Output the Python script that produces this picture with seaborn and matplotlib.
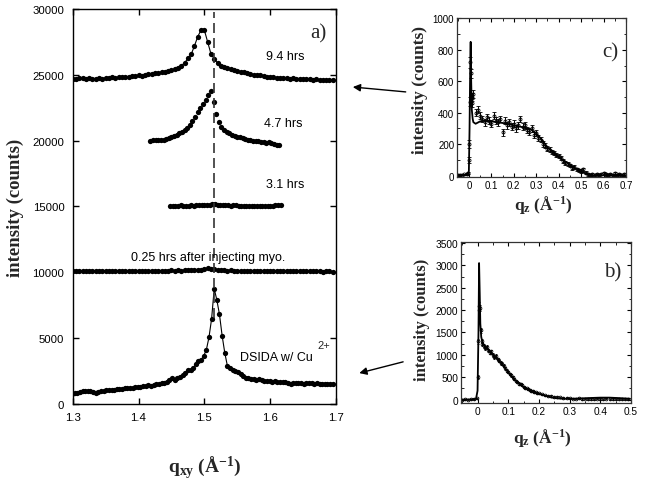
import numpy as np
import matplotlib
matplotlib.use("Agg")
import matplotlib.pyplot as plt
import seaborn as sns

# ---------------- data: panel a (in-plane scans, offset curves) ----------------
q94_range = (1.300, 1.695)
I_94 = [24650, 24700, 24720, 24760, 24700, 24730, 24700, 24680, 24720, 24700,
        24760, 24730, 24800, 24760, 24820, 24800, 24850, 24830, 24900, 24880,
        24950, 24930, 25000, 25050, 25080, 25120, 25150, 25200, 25220, 25280,
        25330, 25420, 25550, 25700, 25900, 26250, 26550, 27200, 27900, 28400,
        28400, 27500, 26600, 26200, 25900, 25700, 25600, 25520, 25450, 25380,
        25300, 25250, 25180, 25130, 25080, 25020, 24980, 24950, 24900, 24870,
        24830, 24800, 24780, 24760, 24720, 24740, 24700, 24720, 24700, 24680,
        24700, 24650, 24680, 24640, 24660, 24620, 24640, 24600, 24620, 24600]

q47_range = (1.418, 1.614)
I_47 = [20010, 20030, 20020, 20060, 20040, 20050, 20100, 20200, 20280, 20350,
        20450, 20550, 20650, 20780, 20950, 21200, 21500, 21800, 22150, 22450,
        22750, 23050, 23500, 23800, 22950, 22000, 21400, 21050, 20800, 20650,
        20550, 20450, 20380, 20300, 20250, 20180, 20120, 20080, 20050, 20000,
        19950, 19980, 19900, 19920, 19850, 19870, 19800, 19750, 19700, 19650]

q31_range = (1.448, 1.616)
I_31 = [15050, 15070, 15040, 15060, 15080, 15050, 15060, 15070, 15090, 15060,
        15080, 15100, 15090, 15110, 15100, 15130, 15200, 15170, 15140, 15120,
        15100, 15090, 15080, 15070, 15080, 15090, 15070, 15050, 15060, 15040,
        15050, 15030, 15040, 15060, 15030, 15050, 15040, 15060, 15050, 15070,
        15080, 15100, 15140]

q025_range = (1.300, 1.695)
I_025 = [10100, 10120, 10080, 10100, 10130, 10090, 10110, 10100, 10080, 10120,
         10100, 10090, 10110, 10130, 10100, 10080, 10100, 10120, 10110, 10090,
         10100, 10130, 10110, 10100, 10090, 10120, 10100, 10110, 10130, 10120,
         10140, 10120, 10150, 10130, 10160, 10150, 10170, 10160, 10180, 10200,
         10250, 10300, 10280, 10220, 10180, 10150, 10160, 10130, 10140, 10120,
         10110, 10130, 10100, 10120, 10090, 10110, 10100, 10120, 10100, 10090,
         10110, 10100, 10080, 10100, 10120, 10090, 10100, 10080, 10100, 10090,
         10070, 10090, 10100, 10080, 10070, 10090, 10060, 10080, 10070, 10050]

qds_range = (1.299, 1.695)
I_ds = [760, 820, 860, 900, 950, 980, 1000, 950, 900, 870,
        930, 980, 1000, 1050, 1080, 1100, 1080, 1120, 1150, 1130,
        1180, 1200, 1250, 1230, 1280, 1320, 1300, 1350, 1380, 1420,
        1400, 1450, 1500, 1520, 1560, 1600, 1700, 1800, 1950, 1850,
        1950, 2050, 2200, 2350, 2600, 2550, 2750, 3000, 3250, 3350,
        3650, 4100, 5050, 6450, 8750, 7900, 6800, 5200, 3900, 2900,
        2700, 2600, 2500, 2400, 2250, 2100, 2000, 1950, 1900, 1920,
        1850, 1880, 1800, 1780, 1750, 1720, 1700, 1720, 1680, 1700,
        1650, 1680, 1620, 1550, 1580, 1600, 1560, 1580, 1550, 1600,
        1560, 1580, 1540, 1560, 1520, 1550, 1530, 1520, 1540, 1520]

PEAK_Q = 1.515
DASH_LO, DASH_HI = 6500, 29800

x_ticks_a = [1.3, 1.4, 1.5, 1.6, 1.7]
y_ticks_a = [0, 5000, 10000, 15000, 20000, 25000, 30000]

# ---------------- data: panel c (reflectivity, 9.4 hrs) ----------------
qz_c = [-0.05, -0.04, -0.03, -0.02, -0.01, -0.005, 0.0, 0.002, 0.004, 0.006,
        0.008, 0.010, 0.013, 0.016, 0.02, 0.03, 0.04, 0.05, 0.06, 0.07,
        0.08, 0.09, 0.10, 0.11, 0.12, 0.13, 0.14, 0.15, 0.16, 0.17,
        0.18, 0.19, 0.20, 0.21, 0.22, 0.23, 0.24, 0.25, 0.26, 0.27,
        0.28, 0.29, 0.30, 0.31, 0.32, 0.33, 0.34, 0.35, 0.36, 0.37,
        0.38, 0.39, 0.40, 0.41, 0.42, 0.43, 0.44, 0.45, 0.46, 0.47,
        0.48, 0.49, 0.50, 0.51, 0.52, 0.53, 0.54, 0.55, 0.56, 0.57,
        0.58, 0.59, 0.60, 0.61, 0.62, 0.63, 0.64, 0.65, 0.66, 0.67,
        0.68, 0.69]
I_c = [5, 5, 6, 8, 10, 15, 100, 200, 470, 720,
       650, 480, 500, 460, 520, 400, 420, 380, 360, 340,
       370, 350, 330, 380, 350, 340, 360, 275, 350, 320,
       340, 310, 330, 300, 320, 360, 310, 320, 290, 280,
       300, 260, 270, 240, 230, 200, 190, 170, 165, 150,
       145, 130, 125, 110, 95, 80, 75, 65, 50, 55,
       40, 35, 30, 40, 20, 10, 5, 8, 3, 12,
       5, 10, 15, 8, 5, 12, 6, 15, 5, 10,
       4, 8]
err_c = [4, 4, 4, 4, 5, 6, 20, 25, 30, 35,
         30, 25, 25, 25, 25, 22, 22, 22, 22, 22,
         22, 22, 22, 22, 22, 22, 22, 22, 22, 22,
         22, 22, 22, 22, 22, 22, 22, 22, 20, 20,
         20, 20, 20, 18, 18, 18, 16, 16, 16, 15,
         15, 14, 14, 13, 13, 12, 12, 12, 11, 11,
         10, 10, 10, 10, 9, 9, 8, 8, 8, 8,
         8, 8, 8, 8, 8, 8, 8, 8, 8, 8,
         8, 8]
qz_fit_c = [-0.053, -0.02, -0.005, 0.0, 0.003, 0.006, 0.008, 0.010, 0.013, 0.017,
            0.02, 0.03, 0.05, 0.08, 0.10, 0.15, 0.20, 0.25, 0.28, 0.30,
            0.33, 0.35, 0.40, 0.45, 0.50, 0.55, 0.60, 0.65, 0.697]
I_fit_c = [2, 3, 8, 30, 300, 700, 850, 620, 420, 360,
           340, 330, 345, 350, 345, 335, 320, 305, 290, 270,
           220, 180, 120, 70, 25, 0, 3, 5, 3]
x_ticks_c = [0, 0.1, 0.2, 0.3, 0.4, 0.5, 0.6, 0.7]
x_ticklabels_c = ["0", "0.1", "0.2", "0.3", "0.4", "0.5", "0.6", "0.7"]
y_ticks_c = [0, 200, 400, 600, 800, 1000]

# ---------------- data: panel b (reflectivity, DSIDA w/ Cu2+) ----------------
qz_b = [-0.05, -0.04, -0.03, -0.02, -0.01, -0.003, 0.0, 0.003, 0.005, 0.006,
        0.008, 0.010, 0.013, 0.016, 0.02, 0.025, 0.03, 0.035, 0.04, 0.045,
        0.05, 0.055, 0.06, 0.065, 0.07, 0.075, 0.08, 0.085, 0.09, 0.095,
        0.10, 0.105, 0.11, 0.115, 0.12, 0.125, 0.13, 0.135, 0.14, 0.145,
        0.15, 0.155, 0.16, 0.165, 0.17, 0.175, 0.18, 0.185, 0.19, 0.195,
        0.20, 0.21, 0.22, 0.23, 0.24, 0.25, 0.26, 0.27, 0.28, 0.29,
        0.30, 0.31, 0.32, 0.33, 0.34, 0.35, 0.36, 0.37, 0.38, 0.39,
        0.40, 0.41, 0.42, 0.43, 0.44, 0.45, 0.46, 0.47, 0.48, 0.49]
I_b = [0, 5, 0, 5, 10, 30, 500, 1300, 2100, 2000,
       2050, 1550, 1300, 1250, 1200, 1150, 1180, 1100, 1050, 1080,
       1000, 950, 980, 900, 870, 820, 800, 760, 700, 650,
       620, 570, 540, 500, 460, 420, 400, 360, 340, 330,
       290, 270, 250, 230, 210, 200, 190, 170, 160, 150,
       140, 120, 100, 90, 80, 70, 60, 55, 45, 40,
       30, 25, 20, 30, 15, 20, 10, 15, 10, 20,
       15, 10, 20, 10, 15, 5, 10, 5, 10, 5]
err_b = [8, 8, 8, 8, 10, 15, 40, 60, 70, 70,
         70, 55, 45, 45, 40, 40, 40, 40, 40, 40,
         38, 38, 38, 36, 36, 35, 35, 34, 33, 32,
         30, 30, 28, 28, 26, 26, 25, 24, 23, 22,
         22, 21, 20, 20, 19, 19, 18, 18, 17, 17,
         16, 15, 15, 14, 14, 13, 13, 12, 12, 12,
         12, 12, 12, 12, 12, 12, 12, 12, 12, 12,
         12, 12, 12, 12, 12, 12, 12, 12, 12, 12]
qz_fit_b = [-0.054, -0.02, -0.005, 0.0, 0.003, 0.005, 0.007, 0.009, 0.012, 0.016,
            0.02, 0.03, 0.04, 0.05, 0.06, 0.07, 0.08, 0.09, 0.10, 0.11,
            0.12, 0.13, 0.14, 0.15, 0.16, 0.18, 0.20, 0.22, 0.24, 0.26,
            0.28, 0.30, 0.33, 0.36, 0.40, 0.43, 0.46, 0.497]
I_fit_b = [0, 5, 20, 200, 1500, 3050, 2400, 1700, 1400, 1280,
           1230, 1150, 1080, 1000, 930, 860, 790, 700, 610, 530,
           450, 390, 330, 280, 240, 180, 130, 90, 50, 30,
           20, 20, 25, 35, 45, 45, 35, 20]
x_ticks_b = [0, 0.1, 0.2, 0.3, 0.4, 0.5]
x_ticklabels_b = ["0", "0.1", "0.2", "0.3", "0.4", "0.5"]
y_ticks_b = [0, 500, 1000, 1500, 2000, 2500, 3000, 3500]

# ---------------- style ----------------
sns.set_theme(style="ticks")
plt.rcParams.update({
    "font.family": ["Liberation Sans", "DejaVu Sans"],
    "mathtext.fontset": "custom",
    "mathtext.rm": "Liberation Serif",
    "mathtext.bf": "Liberation Serif:bold",
    "mathtext.it": "Liberation Serif:italic",
    "axes.edgecolor": "black",
    "axes.linewidth": 1.0,
    "xtick.direction": "in",
    "ytick.direction": "in",
    "xtick.color": "black",
    "ytick.color": "black",
})

fig = plt.figure(figsize=(6.45, 4.89), dpi=100)
fig.patch.set_facecolor("white")

SERIF = "Liberation Serif"

# ---------------- panel a ----------------
ax = fig.add_axes([0.1127, 0.1718, 0.4082, 0.8078])
curves = [(q94_range, I_94, 0.8), (q47_range, I_47, 0.0), (q31_range, I_31, 0.8),
          (q025_range, I_025, 0.8), (qds_range, I_ds, 0.8)]
for (lo_hi, vals, lw) in curves:
    q = np.linspace(lo_hi[0], lo_hi[1], len(vals))
    sns.lineplot(x=q, y=vals, ax=ax, color="black", linewidth=lw,
                 marker="o", markersize=3.8, markeredgewidth=0,
                 estimator=None, sort=False)
ax.vlines(PEAK_Q, DASH_LO, DASH_HI, colors="#333333", linewidth=1.2,
          linestyles=(0, (6, 3)))
ax.set_xlim(1.3, 1.7)
ax.set_ylim(0, 30000)
ax.set_xticks(x_ticks_a)
ax.set_xticklabels([f"{t:.1f}" for t in x_ticks_a])
ax.set_yticks(y_ticks_a)
ax.set_yticklabels([str(t) for t in y_ticks_a])
ax.tick_params(axis="both", which="major", labelsize=8.2, length=4, width=1,
               top=True, right=True, pad=6)
ax.set_xlabel(r"$\mathbf{q_{xy}\ (Å^{-1})}$", fontsize=14)
ax.set_ylabel("intensity (counts)", fontsize=13.5, fontweight="bold",
              family=SERIF)
ax.xaxis.set_label_coords(0.5, -0.125)
ax.yaxis.set_label_coords(-0.185, 0.498)

txt_kw = dict(fontsize=9, color="black", family=["Liberation Sans", "DejaVu Sans"])
ax.text(1.6225, 26450, "9.4 hrs", ha="center", va="center", **txt_kw)
ax.text(1.6195, 21360, "4.7 hrs", ha="center", va="center", **txt_kw)
ax.text(1.6225, 16720, "3.1 hrs", ha="center", va="center", **txt_kw)
ax.text(1.5058, 11170, "0.25 hrs after injecting myo.", ha="center", va="center", **txt_kw)
ax.text(1.5545, 3570, "DSIDA w/ Cu", ha="left", va="center", **txt_kw)
ax.text(1.672, 4500, "2+", ha="left", va="center", fontsize=8,
        family=["Liberation Sans", "DejaVu Sans"])
ax.text(0.935, 0.94, "a)", transform=ax.transAxes, ha="center", va="center",
        fontsize=15, family=SERIF)

# ---------------- panel c ----------------
axc = fig.add_axes([0.7085, 0.6354, 0.2620, 0.3252])
axc.errorbar(qz_c, I_c, yerr=err_c, fmt="o", ms=2.2, mfc="none", mec="black",
             mew=0.6, ecolor="black", elinewidth=0.7, capsize=1.2, capthick=0.7)
sns.lineplot(x=qz_fit_c, y=I_fit_c, ax=axc, color="black", linewidth=1.3,
             estimator=None, sort=False)
axc.set_xlim(-0.053, 0.697)
axc.set_ylim(-10, 1000)
axc.set_xticks(x_ticks_c)
axc.set_xticklabels(x_ticklabels_c)
axc.set_yticks(y_ticks_c)
axc.xaxis.set_minor_locator(matplotlib.ticker.MultipleLocator(0.05))
axc.yaxis.set_minor_locator(matplotlib.ticker.MultipleLocator(100))
axc.tick_params(axis="both", which="major", labelsize=7, length=3, width=0.8,
                top=True, right=True, pad=2)
axc.tick_params(axis="both", which="minor", length=1.8, width=0.6,
                top=True, right=True)
axc.set_xlabel(r"$\mathbf{q_{z}\ (Å^{-1})}$", fontsize=12.5)
axc.set_ylabel("intensity (counts)", fontsize=12.5, fontweight="bold",
               family=SERIF)
axc.xaxis.set_label_coords(0.51, -0.10)
axc.yaxis.set_label_coords(-0.17, 0.557)
axc.text(0.905, 0.79, "c)", transform=axc.transAxes, ha="center", va="center",
         fontsize=15, family=SERIF)
for s in axc.spines.values():
    s.set_color("#333333")
    s.set_linewidth(0.9)

# ---------------- panel b ----------------
axb = fig.add_axes([0.7147, 0.1738, 0.2636, 0.3292])
axb.errorbar(qz_b, I_b, yerr=err_b, fmt="o", ms=2.0, mfc="none", mec="black",
             mew=0.6, ecolor="black", elinewidth=0.7, capsize=1.0, capthick=0.7)
sns.lineplot(x=qz_fit_b, y=I_fit_b, ax=axb, color="black", linewidth=1.3,
             estimator=None, sort=False)
axb.set_xlim(-0.054, 0.497)
axb.set_ylim(-75, 3520)
axb.set_xticks(x_ticks_b)
axb.set_xticklabels(x_ticklabels_b)
axb.set_yticks(y_ticks_b)
axb.xaxis.set_minor_locator(matplotlib.ticker.MultipleLocator(0.05))
axb.yaxis.set_minor_locator(matplotlib.ticker.MultipleLocator(250))
axb.tick_params(axis="both", which="major", labelsize=7.3, length=3, width=0.8,
                top=True, right=True, pad=2)
axb.tick_params(axis="both", which="minor", length=1.8, width=0.6,
                top=True, right=True)
axb.set_xlabel(r"$\mathbf{q_{z}\ (Å^{-1})}$", fontsize=12.5)
axb.set_ylabel("intensity (counts)", fontsize=12, fontweight="bold",
               family=SERIF)
axb.xaxis.set_label_coords(0.48, -0.14)
axb.yaxis.set_label_coords(-0.18, 0.52)
axb.text(0.894, 0.814, "b)", transform=axb.transAxes, ha="center", va="center",
         fontsize=15, family=SERIF)
for s in axb.spines.values():
    s.set_color("#333333")
    s.set_linewidth(0.9)

# ---------------- arrows ----------------
arrow_kw = dict(arrowstyle="-|>", color="black", lw=1.0, mutation_scale=11,
                shrinkA=0, shrinkB=0)
ax.annotate("", xy=(0.547, 0.820), xytext=(0.629, 0.810),
            xycoords="figure fraction", textcoords="figure fraction",
            arrowprops=arrow_kw, annotation_clip=False)
ax.annotate("", xy=(0.557, 0.235), xytext=(0.625, 0.258),
            xycoords="figure fraction", textcoords="figure fraction",
            arrowprops=arrow_kw, annotation_clip=False)

fig.savefig("out.png", dpi=100, facecolor="white")
